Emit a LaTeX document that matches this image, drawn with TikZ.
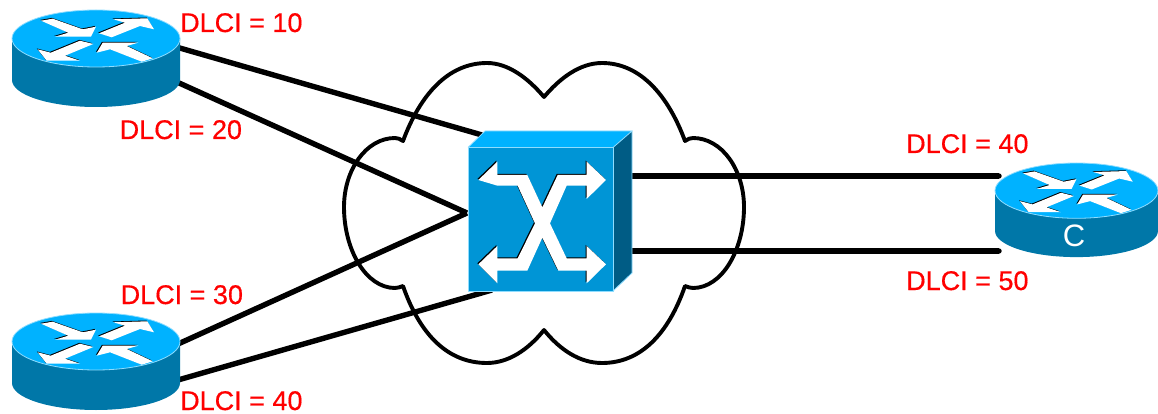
\documentclass[tikz,border=0pt]{standalone}
\usepackage{fontspec}
\setmainfont{Liberation Sans}
\definecolor{topblue}{HTML}{00B2FF}
\definecolor{sideblue}{HTML}{0077A8}
\definecolor{frontblue}{HTML}{0095D6}
\definecolor{darkblue}{HTML}{005C85}
\definecolor{rimblue}{HTML}{8FDDFF}
\definecolor{labelred}{HTML}{FF0000}
\tikzset{
  link/.style={line width=5.4pt,black},
  cloudline/.style={line width=3.9pt,black,line join=round},
  dlci/.style={text=labelred,font=\fontsize{27}{30}\selectfont\addfontfeature{FakeBold=0.5},anchor=base west,inner sep=0pt},
  rim/.style={draw=rimblue,line width=0.8pt},
  routerpic/.pic={
    \fill[sideblue] (0,28.5) -- (0,70) arc[start angle=180,end angle=0,x radius=84,y radius=27] -- (168,28.5) -- cycle;
    \filldraw[fill=topblue,rim] (84,28.5) ellipse[x radius=84,y radius=28.5];
    \foreach \dx/\dy/\c in {-0.8/-0.8/black,0/0/white}{
      \begin{scope}[shift={(\dx,\dy)}]
      \fill[\c] (29,10.7)--(40.7,8.7)--(70.7,19.3)--(84,16.7)--(79,26.7)--(43,26.7)--(56.3,22.7)--cycle;
      \fill[\c] (87,23.3)--(113,12.7)--(101.3,9.3)--(135.3,8.3)--(142,19.3)--(128,16)--(99.7,27.3)--cycle;
      \fill[\c] (68,30.7)--(81.3,34)--(53,45.7)--(68,50.7)--(34.7,50.7)--(25.7,39.3)--(38.7,42.7)--cycle;
      \fill[\c] (84.7,42.7)--(90.7,32.7)--(126.3,32.7)--(114.7,36)--(140.7,48.3)--(129.7,51.7)--(98,39.3)--cycle;
      \end{scope}
    }
  }
}
\begin{document}
\begin{tikzpicture}[x=1pt,y=-1pt]
\useasboundingbox (0,0) rectangle (1158,414);
% cloud
\draw[cloudline] (544,97)
  .. controls (560,78) and (580,63) .. (602,63)
  .. controls (640,63) and (668,95) .. (685,141)
  .. controls (688,139) and (690,138) .. (693,138)
  .. controls (722,138) and (744,170) .. (744,207)
  .. controls (744,250) and (722,288) .. (693,288)
  .. controls (690,288) and (688,287) .. (685,286)
  .. controls (668,335) and (640,363) .. (602,363)
  .. controls (580,363) and (560,350) .. (544,330)
  .. controls (528,350) and (508,363) .. (487,363)
  .. controls (448,363) and (420,335) .. (403,286)
  .. controls (400,287) and (398,288) .. (395,288)
  .. controls (366,288) and (344,250) .. (344,207)
  .. controls (344,170) and (366,138) .. (395,138)
  .. controls (398,138) and (400,139) .. (403,141)
  .. controls (420,95) and (448,63) .. (487,63)
  .. controls (508,63) and (528,78) .. (544,97) -- cycle;
% connector ends
\coordinate (ra1) at (178,47.5);
\coordinate (ra2) at (178,82.5);
\coordinate (rb1) at (178,344);
\coordinate (rb2) at (178,380);
\coordinate (sw1) at (482,135);
\coordinate (sw2) at (467,213);
\coordinate (sw3) at (492,290);
\coordinate (sw4) at (632,176);
\coordinate (sw5) at (632,251);
\coordinate (rc1) at (999,176);
\coordinate (rc2) at (999,251);
\draw[link] (ra1) -- (sw1);
\draw[link] (ra2) -- (sw2);
\draw[link] (rb1) -- (sw2);
\draw[link] (rb2) -- (sw3);
\draw[link] (sw4) -- (rc1);
\draw[link] (sw5) -- (rc2);
\fill[black] (rc1) circle[radius=2.7];
\fill[black] (rc2) circle[radius=2.7];
% routers
\pic at (12,10) {routerpic};
\pic at (12,313) {routerpic};
\pic[scale=0.97] at (995,163) {routerpic};
\node[text=white,font=\fontsize{31}{32}\selectfont,inner sep=0pt] (clabel) at (1074,236) {C};
% switch
\fill[topblue] (468,147.5) -- (485,131) -- (632,131) -- (613,147.5) -- cycle;
\fill[darkblue] (613,147.5) -- (632,131) -- (632,273) -- (613,291) -- cycle;
\filldraw[fill=frontblue,rim] (468,147.5) rectangle (613,291);
\draw[rim] (468,147.5) -- (485,131) -- (632,131) -- (613,147.5) (632,131) -- (632,273) -- (613,291);
\begin{scope}[shift={(450,120)},x=0.3333pt,y=-0.3333pt]
\foreach \dx/\dy/\c in {-3/-3/black,0/0/white}{
  \fill[\c,shift={(\dx,\dy)}] (85,180)--(142,125)--(142,165)--(232,165)--(277,262)--(323,165)--(410,165)--(410,125)--(468,180)--(410,237)--(410,197)--(350,197)--(300,310)--(350,415)--(410,415)--(410,378)--(468,433)--(410,490)--(410,452)--(325,452)--(277,353)--(232,452)--(142,452)--(142,490)--(85,433)--(142,378)--(142,415)--(203,415)--(255,310)--(203,197)--(142,197)--cycle;
}
\end{scope}
% labels
\node[dlci] (l10) at (180,32) {DLCI = 10};
\node[dlci] (l20) at (119.5,139) {DLCI = 20};
\node[dlci] (l30) at (120.5,304) {DLCI = 30};
\node[dlci] (l40a) at (180,410) {DLCI = 40};
\node[dlci] (l40b) at (906,153) {DLCI = 40};
\node[dlci] (l50) at (906,290) {DLCI = 50};
\end{tikzpicture}
\end{document}
